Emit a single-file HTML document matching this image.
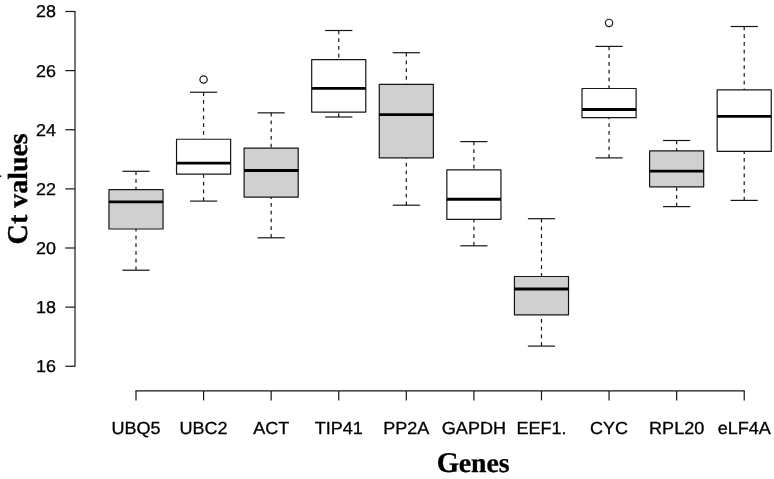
<!DOCTYPE html>
<html lang="en"><head><meta charset="utf-8"><title>Ct values boxplot</title>
<style>html,body{margin:0;padding:0;background:#fff;}body{width:774px;height:479px;overflow:hidden;}svg{display:block;will-change:transform;}text{font-family:"Liberation Sans",sans-serif;fill:#000;stroke:#000;stroke-width:0.32px;text-rendering:geometricPrecision;}.t{font-family:"Liberation Serif",serif;font-weight:bold;stroke:#000;stroke-width:0.3px;}</style></head><body>
<svg width="774" height="479" viewBox="0 0 774 479">
<rect x="0" y="0" width="774" height="479" fill="#ffffff"/>
<g><line x1="136.00" y1="171.3" x2="136.00" y2="189.6" stroke="#161616" stroke-width="1.2" stroke-dasharray="3.75 4"/><line x1="136.00" y1="270.2" x2="136.00" y2="229.0" stroke="#161616" stroke-width="1.2" stroke-dasharray="3.75 4"/><line x1="122.40" y1="171.3" x2="149.60" y2="171.3" stroke="#161616" stroke-width="1.2"/><line x1="122.40" y1="270.2" x2="149.60" y2="270.2" stroke="#161616" stroke-width="1.2"/><rect x="108.95" y="189.6" width="54.1" height="39.40" fill="#d0d0d0" stroke="#161616" stroke-width="1.2" stroke-linejoin="round"/><line x1="108.95" y1="201.9" x2="163.05" y2="201.9" stroke="#000" stroke-width="2.9"/></g>
<g><line x1="203.58" y1="92.25" x2="203.58" y2="139.25" stroke="#161616" stroke-width="1.2" stroke-dasharray="3.75 4"/><line x1="203.58" y1="201.1" x2="203.58" y2="174.2" stroke="#161616" stroke-width="1.2" stroke-dasharray="3.75 4"/><line x1="189.98" y1="92.25" x2="217.18" y2="92.25" stroke="#161616" stroke-width="1.2"/><line x1="189.98" y1="201.1" x2="217.18" y2="201.1" stroke="#161616" stroke-width="1.2"/><rect x="176.53" y="139.25" width="54.1" height="34.95" fill="#ffffff" stroke="#161616" stroke-width="1.2" stroke-linejoin="round"/><line x1="176.53" y1="163.1" x2="230.63" y2="163.1" stroke="#000" stroke-width="2.9"/><circle cx="203.58" cy="79.5" r="3.65" fill="none" stroke="#161616" stroke-width="1.2"/></g>
<g><line x1="271.16" y1="112.85" x2="271.16" y2="148.1" stroke="#161616" stroke-width="1.2" stroke-dasharray="3.75 4"/><line x1="271.16" y1="237.8" x2="271.16" y2="197.1" stroke="#161616" stroke-width="1.2" stroke-dasharray="3.75 4"/><line x1="257.56" y1="112.85" x2="284.76" y2="112.85" stroke="#161616" stroke-width="1.2"/><line x1="257.56" y1="237.8" x2="284.76" y2="237.8" stroke="#161616" stroke-width="1.2"/><rect x="244.11" y="148.1" width="54.1" height="49.00" fill="#d0d0d0" stroke="#161616" stroke-width="1.2" stroke-linejoin="round"/><line x1="244.11" y1="170.5" x2="298.21" y2="170.5" stroke="#000" stroke-width="2.9"/></g>
<g><line x1="338.74" y1="30.5" x2="338.74" y2="59.7" stroke="#161616" stroke-width="1.2" stroke-dasharray="3.75 4"/><line x1="338.74" y1="117.0" x2="338.74" y2="112.1" stroke="#161616" stroke-width="1.2" stroke-dasharray="3.75 4"/><line x1="325.14" y1="30.5" x2="352.34" y2="30.5" stroke="#161616" stroke-width="1.2"/><line x1="325.14" y1="117.0" x2="352.34" y2="117.0" stroke="#161616" stroke-width="1.2"/><rect x="311.69" y="59.7" width="54.1" height="52.40" fill="#ffffff" stroke="#161616" stroke-width="1.2" stroke-linejoin="round"/><line x1="311.69" y1="88.4" x2="365.79" y2="88.4" stroke="#000" stroke-width="2.9"/></g>
<g><line x1="406.32" y1="52.7" x2="406.32" y2="84.4" stroke="#161616" stroke-width="1.2" stroke-dasharray="3.75 4"/><line x1="406.32" y1="205.2" x2="406.32" y2="157.8" stroke="#161616" stroke-width="1.2" stroke-dasharray="3.75 4"/><line x1="392.72" y1="52.7" x2="419.92" y2="52.7" stroke="#161616" stroke-width="1.2"/><line x1="392.72" y1="205.2" x2="419.92" y2="205.2" stroke="#161616" stroke-width="1.2"/><rect x="379.27" y="84.4" width="54.1" height="73.40" fill="#d0d0d0" stroke="#161616" stroke-width="1.2" stroke-linejoin="round"/><line x1="379.27" y1="114.6" x2="433.37" y2="114.6" stroke="#000" stroke-width="2.9"/></g>
<g><line x1="473.90" y1="141.6" x2="473.90" y2="169.8" stroke="#161616" stroke-width="1.2" stroke-dasharray="3.75 4"/><line x1="473.90" y1="245.8" x2="473.90" y2="219.3" stroke="#161616" stroke-width="1.2" stroke-dasharray="3.75 4"/><line x1="460.30" y1="141.6" x2="487.50" y2="141.6" stroke="#161616" stroke-width="1.2"/><line x1="460.30" y1="245.8" x2="487.50" y2="245.8" stroke="#161616" stroke-width="1.2"/><rect x="446.85" y="169.8" width="54.1" height="49.50" fill="#ffffff" stroke="#161616" stroke-width="1.2" stroke-linejoin="round"/><line x1="446.85" y1="199.3" x2="500.95" y2="199.3" stroke="#000" stroke-width="2.9"/></g>
<g><line x1="541.48" y1="218.7" x2="541.48" y2="276.5" stroke="#161616" stroke-width="1.2" stroke-dasharray="3.75 4"/><line x1="541.48" y1="346.1" x2="541.48" y2="314.8" stroke="#161616" stroke-width="1.2" stroke-dasharray="3.75 4"/><line x1="527.88" y1="218.7" x2="555.08" y2="218.7" stroke="#161616" stroke-width="1.2"/><line x1="527.88" y1="346.1" x2="555.08" y2="346.1" stroke="#161616" stroke-width="1.2"/><rect x="514.43" y="276.5" width="54.1" height="38.30" fill="#d0d0d0" stroke="#161616" stroke-width="1.2" stroke-linejoin="round"/><line x1="514.43" y1="289.0" x2="568.53" y2="289.0" stroke="#000" stroke-width="2.9"/></g>
<g><line x1="609.06" y1="46.4" x2="609.06" y2="88.5" stroke="#161616" stroke-width="1.2" stroke-dasharray="3.75 4"/><line x1="609.06" y1="157.9" x2="609.06" y2="117.7" stroke="#161616" stroke-width="1.2" stroke-dasharray="3.75 4"/><line x1="595.46" y1="46.4" x2="622.66" y2="46.4" stroke="#161616" stroke-width="1.2"/><line x1="595.46" y1="157.9" x2="622.66" y2="157.9" stroke="#161616" stroke-width="1.2"/><rect x="582.01" y="88.5" width="54.1" height="29.20" fill="#ffffff" stroke="#161616" stroke-width="1.2" stroke-linejoin="round"/><line x1="582.01" y1="109.5" x2="636.11" y2="109.5" stroke="#000" stroke-width="2.9"/><circle cx="609.06" cy="22.9" r="3.65" fill="none" stroke="#161616" stroke-width="1.2"/></g>
<g><line x1="676.64" y1="140.5" x2="676.64" y2="150.9" stroke="#161616" stroke-width="1.2" stroke-dasharray="3.75 4"/><line x1="676.64" y1="206.6" x2="676.64" y2="186.8" stroke="#161616" stroke-width="1.2" stroke-dasharray="3.75 4"/><line x1="663.04" y1="140.5" x2="690.24" y2="140.5" stroke="#161616" stroke-width="1.2"/><line x1="663.04" y1="206.6" x2="690.24" y2="206.6" stroke="#161616" stroke-width="1.2"/><rect x="649.59" y="150.9" width="54.1" height="35.90" fill="#d0d0d0" stroke="#161616" stroke-width="1.2" stroke-linejoin="round"/><line x1="649.59" y1="171.1" x2="703.69" y2="171.1" stroke="#000" stroke-width="2.9"/></g>
<g><line x1="744.22" y1="26.5" x2="744.22" y2="89.9" stroke="#161616" stroke-width="1.2" stroke-dasharray="3.75 4"/><line x1="744.22" y1="200.4" x2="744.22" y2="151.4" stroke="#161616" stroke-width="1.2" stroke-dasharray="3.75 4"/><line x1="730.62" y1="26.5" x2="757.82" y2="26.5" stroke="#161616" stroke-width="1.2"/><line x1="730.62" y1="200.4" x2="757.82" y2="200.4" stroke="#161616" stroke-width="1.2"/><rect x="717.17" y="89.9" width="54.1" height="61.50" fill="#ffffff" stroke="#161616" stroke-width="1.2" stroke-linejoin="round"/><line x1="717.17" y1="116.4" x2="771.27" y2="116.4" stroke="#000" stroke-width="2.9"/></g>
<g stroke="#161616" stroke-width="1.2" fill="none">
<line x1="75.0" y1="10.90" x2="75.0" y2="366.86"/>
<line x1="65.3" y1="11.50" x2="75.0" y2="11.50"/>
<line x1="65.3" y1="70.63" x2="75.0" y2="70.63"/>
<line x1="65.3" y1="129.75" x2="75.0" y2="129.75"/>
<line x1="65.3" y1="188.88" x2="75.0" y2="188.88"/>
<line x1="65.3" y1="248.00" x2="75.0" y2="248.00"/>
<line x1="65.3" y1="307.13" x2="75.0" y2="307.13"/>
<line x1="65.3" y1="366.26" x2="75.0" y2="366.26"/>
<line x1="135.40" y1="390.9" x2="744.82" y2="390.9"/>
<line x1="136.00" y1="390.9" x2="136.00" y2="400.40"/>
<line x1="203.58" y1="390.9" x2="203.58" y2="400.40"/>
<line x1="271.16" y1="390.9" x2="271.16" y2="400.40"/>
<line x1="338.74" y1="390.9" x2="338.74" y2="400.40"/>
<line x1="406.32" y1="390.9" x2="406.32" y2="400.40"/>
<line x1="473.90" y1="390.9" x2="473.90" y2="400.40"/>
<line x1="541.48" y1="390.9" x2="541.48" y2="400.40"/>
<line x1="609.06" y1="390.9" x2="609.06" y2="400.40"/>
<line x1="676.64" y1="390.9" x2="676.64" y2="400.40"/>
<line x1="744.22" y1="390.9" x2="744.22" y2="400.40"/>
</g>
<text transform="translate(55.9 17.45) scale(1 0.955)" font-size="17.9" text-anchor="end">28</text>
<text transform="translate(55.9 76.58) scale(1 0.955)" font-size="17.9" text-anchor="end">26</text>
<text transform="translate(55.9 135.70) scale(1 0.955)" font-size="17.9" text-anchor="end">24</text>
<text transform="translate(55.9 194.83) scale(1 0.955)" font-size="17.9" text-anchor="end">22</text>
<text transform="translate(55.9 253.95) scale(1 0.955)" font-size="17.9" text-anchor="end">20</text>
<text transform="translate(55.9 313.08) scale(1 0.955)" font-size="17.9" text-anchor="end">18</text>
<text transform="translate(55.9 372.21) scale(1 0.955)" font-size="17.9" text-anchor="end">16</text>
<text transform="translate(136.00 433.85) scale(1 0.97)" font-size="18.05" text-anchor="middle">UBQ5</text>
<text transform="translate(203.58 433.85) scale(1 0.97)" font-size="18.05" text-anchor="middle">UBC2</text>
<text transform="translate(271.16 433.85) scale(1 0.97)" font-size="18.05" text-anchor="middle">ACT</text>
<text transform="translate(338.74 433.85) scale(1 0.97)" font-size="18.05" text-anchor="middle">TIP41</text>
<text transform="translate(406.32 433.85) scale(1 0.97)" font-size="18.05" text-anchor="middle">PP2A</text>
<text transform="translate(473.90 433.85) scale(1 0.97)" font-size="18.05" text-anchor="middle">GAPDH</text>
<text transform="translate(541.48 433.85) scale(1 0.97)" font-size="18.05" text-anchor="middle">EEF1.</text>
<text transform="translate(609.06 433.85) scale(1 0.97)" font-size="18.05" text-anchor="middle">CYC</text>
<text transform="translate(676.64 433.85) scale(1 0.97)" font-size="18.05" text-anchor="middle">RPL20</text>
<text transform="translate(744.22 433.85) scale(1 0.97)" font-size="18.05" text-anchor="middle">eLF4A</text>
<text class="t" transform="translate(459.03 472.0) scale(1.035 1.03)" font-size="27.8" text-anchor="end">G</text>
<text class="t" transform="translate(458.73 472.0) scale(1 0.985)" font-size="27.8">enes</text>
<g transform="translate(26.65 244.16) rotate(-90)">
<text class="t" transform="translate(19.80 0) scale(1.0 1.03)" font-size="27.9" text-anchor="end">C</text>
<text class="t" transform="translate(20.15 0) scale(1 0.99)" font-size="27.9">t values</text>
</g>
<rect x="0" y="175.4" width="1.3" height="1.6" fill="#111"/>
</svg></body></html>
